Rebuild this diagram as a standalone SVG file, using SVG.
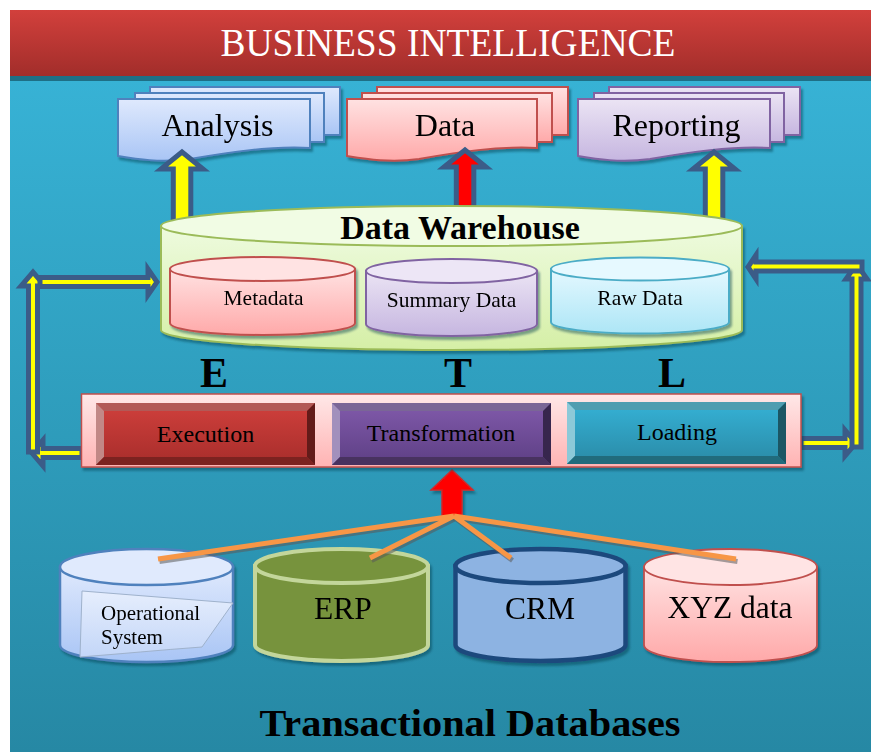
<svg xmlns="http://www.w3.org/2000/svg" width="871" height="752" viewBox="0 0 871 752">
  <defs>
    <linearGradient id="gBg" x1="0" y1="0" x2="0" y2="1">
      <stop offset="0" stop-color="#37b2d5"/>
      <stop offset="1" stop-color="#2688a4"/>
    </linearGradient>
    <linearGradient id="gHead" x1="0" y1="0" x2="0" y2="1">
      <stop offset="0" stop-color="#d2403c"/>
      <stop offset="1" stop-color="#a12d2a"/>
    </linearGradient>
    <linearGradient id="gBlue" x1="0" y1="0" x2="0" y2="1">
      <stop offset="0" stop-color="#dfe9fd"/>
      <stop offset="1" stop-color="#a9c5f5"/>
    </linearGradient>
    <linearGradient id="gPink" x1="0" y1="0" x2="0" y2="1">
      <stop offset="0" stop-color="#ffe2e2"/>
      <stop offset="1" stop-color="#ffa9a9"/>
    </linearGradient>
    <linearGradient id="gPurple" x1="0" y1="0" x2="0" y2="1">
      <stop offset="0" stop-color="#ebe4f4"/>
      <stop offset="1" stop-color="#c6b6e0"/>
    </linearGradient>
    <linearGradient id="gCyan" x1="0" y1="0" x2="0" y2="1">
      <stop offset="0" stop-color="#e4f8ff"/>
      <stop offset="1" stop-color="#ade6f6"/>
    </linearGradient>
    <linearGradient id="gGreen" x1="0" y1="0" x2="0" y2="1">
      <stop offset="0" stop-color="#eefbdf"/>
      <stop offset="1" stop-color="#d5efa6"/>
    </linearGradient>
    <linearGradient id="gFrame" x1="0" y1="0" x2="0" y2="1">
      <stop offset="0" stop-color="#ffe8e8"/>
      <stop offset="1" stop-color="#ffb3b3"/>
    </linearGradient>
    <linearGradient id="gExec" x1="0" y1="0" x2="0" y2="1">
      <stop offset="0" stop-color="#d0403c"/>
      <stop offset="1" stop-color="#a72d2b"/>
    </linearGradient>
    <linearGradient id="gTrans" x1="0" y1="0" x2="0" y2="1">
      <stop offset="0" stop-color="#815aab"/>
      <stop offset="1" stop-color="#5d3f84"/>
    </linearGradient>
    <linearGradient id="gLoad" x1="0" y1="0" x2="0" y2="1">
      <stop offset="0" stop-color="#35b2d6"/>
      <stop offset="1" stop-color="#2a8aa6"/>
    </linearGradient>
    <linearGradient id="gNote" x1="0" y1="0" x2="0" y2="1">
      <stop offset="0" stop-color="#e6eefd"/>
      <stop offset="1" stop-color="#c3d6f8"/>
    </linearGradient>
    <filter id="shadow" x="-10%" y="-10%" width="120%" height="130%">
      <feDropShadow dx="2" dy="3" stdDeviation="1" flood-color="#0b3a4a" flood-opacity="0.45"/>
    </filter>
  </defs>
  <style>
    .serif { font-family: "Liberation Serif", "Times New Roman", serif; fill: #000; text-anchor: middle; }
    .bold { font-weight: bold; }
    .loop { fill: #ffff00; stroke: #3b5c88; stroke-width: 5; stroke-linejoin: miter; stroke-miterlimit: 10; }
    .feed { fill: none; stroke: #f79646; stroke-width: 5; stroke-linecap: butt; }
    .feedShadow { fill: none; stroke: #5a5a5a; stroke-opacity: 0.55; stroke-width: 5; }
    .bevelTxt { font-size: 24px; }
    .dbTxt { font-size: 21.5px; }
    .docTxt { font-size: 32px; }
    .srcTxt { font-size: 31.5px; }
  </style>

  <!-- page background and title bar -->
  <rect x="10" y="80" width="861" height="672" fill="url(#gBg)"/>
  <g id="title">
    <rect x="10" y="10" width="861" height="67" fill="url(#gHead)"/>
    <rect x="10" y="76" width="861" height="5" fill="#1e6f86"/>
    <text x="448" y="56" font-family="Liberation Serif, Times New Roman, serif" font-size="39" fill="#ffffff" text-anchor="middle" textLength="455" lengthAdjust="spacingAndGlyphs">BUSINESS INTELLIGENCE</text>
  </g>

  <!-- output documents -->
  <g id="analysis" filter="url(#shadow)">
    <rect x="150" y="87" width="190" height="48" fill="url(#gBlue)" stroke="#4f81bd" stroke-width="2"/>
    <rect x="135" y="93" width="189" height="49" fill="url(#gBlue)" stroke="#4f81bd" stroke-width="2"/>
    <path d="M118,99 H310 V148 C270,146 230,152 190,159 C160,163 136,159 118,156 Z" fill="url(#gBlue)" stroke="#4f81bd" stroke-width="2"/>
    <text class="serif docTxt" x="217.5" y="136">Analysis</text>
  </g>
  <g id="data" filter="url(#shadow)">
    <rect x="377" y="87" width="191" height="48" fill="url(#gPink)" stroke="#c0504d" stroke-width="2"/>
    <rect x="362" y="93" width="190" height="49" fill="url(#gPink)" stroke="#c0504d" stroke-width="2"/>
    <path d="M347,99 H537 V148 C498,146 458,152 419,159 C390,163 366,159 347,156 Z" fill="url(#gPink)" stroke="#c0504d" stroke-width="2"/>
    <text class="serif docTxt" x="445" y="136">Data</text>
  </g>
  <g id="reporting" filter="url(#shadow)">
    <rect x="609" y="87" width="191" height="48" fill="url(#gPurple)" stroke="#8064a2" stroke-width="2"/>
    <rect x="594" y="93" width="190" height="49" fill="url(#gPurple)" stroke="#8064a2" stroke-width="2"/>
    <path d="M578,99 H770 V148 C730,146 690,152 650,159 C620,163 596,159 578,156 Z" fill="url(#gPurple)" stroke="#8064a2" stroke-width="2"/>
    <text class="serif docTxt" x="676.5" y="136">Reporting</text>
  </g>

  <!-- connectors -->
  <g id="connectors">
    <!-- warehouse to outputs -->
    <polygon class="loop" points="173.3,225 173.3,169 161,169 182,152 203,169 190.8,169 190.8,225"/>
    <polygon class="loop" style="fill:#ff0000" points="456.3,225 456.3,167 444,167 465,150 486,167 473.8,167 473.8,225"/>
    <polygon class="loop" points="705.3,225 705.3,169 693,169 714,152 735,169 722.8,169 722.8,225"/>

    <!-- left feedback loop: Execution to warehouse -->
    <polygon class="loop" points="82,448.5 43,448.5 43,440 32,453 43,466 43,457.5 82,457.5"/>
    <polygon class="loop" points="28.5,452 28.5,286 21,286 33,272 45,286 37.5,286 37.5,452"/>
    <polygon class="loop" points="40,277.5 148,277.5 148,269 157,282 148,295 148,286.5 40,286.5"/>

    <!-- right feedback loop: Loading to warehouse -->
    <polygon class="loop" points="801,438.5 845,438.5 845,430 856,443 845,456 845,447.5 801,447.5"/>
    <polygon class="loop" points="852,447 852,279 846,279 856.5,264 867,279 861,279 861,447"/>
    <polygon class="loop" points="862,262 756,262 756,255 748,267 756,279 756,271 862,271"/>

    <!-- sources to ETL -->
    <polygon points="442,516 442,490 431,490 452,470 473,490 462,490 462,516" fill="#ff0000" stroke="#d02a2a" stroke-width="1.5" filter="url(#shadow)"/>
  </g>

  <!-- data warehouse -->
  <g id="warehouse">
    <path d="M161,226 V330 A290.5,20 0 0 0 742,330 V226 Z" fill="url(#gGreen)" stroke="#9bbb59" stroke-width="2" filter="url(#shadow)"/>
    <ellipse cx="451.5" cy="226" rx="290.5" ry="20" fill="#f1fce4" stroke="#9bbb59" stroke-width="2"/>
    <text class="serif bold" x="460" y="239" font-size="34">Data Warehouse</text>
  </g>
  <g id="metadata" filter="url(#shadow)">
    <path d="M170,269 V323 A92.5,12 0 0 0 355,323 V269 Z" fill="url(#gPink)" stroke="#c0504d" stroke-width="2"/>
    <ellipse cx="262.5" cy="269" rx="92.5" ry="12" fill="#ffe3e3" stroke="#c0504d" stroke-width="2"/>
    <text class="serif dbTxt" x="263.5" y="305">Metadata</text>
  </g>
  <g id="summary" filter="url(#shadow)">
    <path d="M366,271 V324 A85.5,12 0 0 0 537,324 V271 Z" fill="url(#gPurple)" stroke="#8064a2" stroke-width="2"/>
    <ellipse cx="451.5" cy="271" rx="85.5" ry="12" fill="#ede6f6" stroke="#8064a2" stroke-width="2"/>
    <text class="serif dbTxt" x="451.5" y="307">Summary Data</text>
  </g>
  <g id="rawdata" filter="url(#shadow)">
    <path d="M551,269 V322 A89,11.5 0 0 0 729,322 V269 Z" fill="url(#gCyan)" stroke="#4bacc6" stroke-width="2"/>
    <ellipse cx="640" cy="269" rx="89" ry="11.5" fill="#e6f9ff" stroke="#4bacc6" stroke-width="2"/>
    <text class="serif dbTxt" x="640" y="305">Raw Data</text>
  </g>

  <!-- ETL stage letters -->
  <g id="etl-letters">
    <text class="serif bold" x="214" y="387" font-size="42">E</text>
    <text class="serif bold" x="458" y="387" font-size="42">T</text>
    <text class="serif bold" x="672" y="387" font-size="42">L</text>
  </g>

  <!-- ETL process bar -->
  <g id="etl">
    <rect x="81.5" y="394" width="719.5" height="73" fill="url(#gFrame)" stroke="#c0504d" stroke-width="1.5" filter="url(#shadow)"/>
  </g>
  <g id="execution">
    <rect x="96" y="403" width="219" height="62" fill="url(#gExec)"/>
    <polygon points="96,403 315,403 307,411 104,411" fill="#b25956"/>
    <polygon points="96,403 104,411 104,457 96,465" fill="#c28886"/>
    <polygon points="315,403 315,465 307,457 307,411" fill="#631b19"/>
    <polygon points="96,465 104,457 307,457 315,465" fill="#7c2220"/>
    <text class="serif bevelTxt" x="205.5" y="442">Execution</text>
  </g>
  <g id="transformation">
    <rect x="332" y="403" width="219" height="62" fill="url(#gTrans)"/>
    <polygon points="332,403 551,403 543,411 340,411" fill="#7a6696"/>
    <polygon points="332,403 340,411 340,457 332,465" fill="#a290bc"/>
    <polygon points="551,403 551,465 543,457 543,411" fill="#37264d"/>
    <polygon points="332,465 340,457 543,457 551,465" fill="#48325f"/>
    <text class="serif bevelTxt" x="441" y="441">Transformation</text>
  </g>
  <g id="loading">
    <rect x="567" y="402" width="219" height="62" fill="url(#gLoad)"/>
    <polygon points="567,402 786,402 778,410 575,410" fill="#4f9db0"/>
    <polygon points="567,402 575,410 575,456 567,464" fill="#8cc9d8"/>
    <polygon points="786,402 786,464 778,456 778,410" fill="#1b5664"/>
    <polygon points="567,464 575,456 778,456 786,464" fill="#216b7c"/>
    <text class="serif bevelTxt" x="677" y="440">Loading</text>
  </g>

  <!-- transactional sources -->
  <g id="operational" filter="url(#shadow)">
    <path d="M60,567 V645 A86.5,17 0 0 0 233,645 V567 Z" fill="url(#gBlue)" stroke="#4f81bd" stroke-width="2.5"/>
    <ellipse cx="146.5" cy="567" rx="86.5" ry="18" fill="#e0eafd" stroke="#4f81bd" stroke-width="2.5"/>
    <path d="M82,591 L233,603 L202,647 C160,650 120,654 80,657 Z" fill="url(#gNote)" stroke="#9fb2cc" stroke-width="1"/>
    <text class="serif" x="101" y="620" font-size="21" style="text-anchor:start">Operational</text>
    <text class="serif" x="101" y="644" font-size="21" style="text-anchor:start">System</text>
  </g>
  <g id="erp" filter="url(#shadow)">
    <path d="M255,566 V645 A86.5,16 0 0 0 428,645 V566 Z" fill="#77933c" stroke="#c3d69b" stroke-width="4"/>
    <ellipse cx="341.5" cy="566" rx="86.5" ry="17" fill="#77933c" stroke="#c3d69b" stroke-width="4"/>
    <text class="serif srcTxt" x="343" y="619">ERP</text>
  </g>
  <g id="crm" filter="url(#shadow)">
    <path d="M455.5,566 V645 A85,16 0 0 0 625.5,645 V566 Z" fill="#8db3e2" stroke="#1f497d" stroke-width="4.5"/>
    <ellipse cx="540.5" cy="566" rx="85" ry="17" fill="#8db3e2" stroke="#1f497d" stroke-width="4.5"/>
    <text class="serif srcTxt" x="540" y="619">CRM</text>
  </g>
  <g id="xyz" filter="url(#shadow)">
    <path d="M644,567 V645 A86.5,17 0 0 0 817,645 V567 Z" fill="url(#gPink)" stroke="#c0504d" stroke-width="1.8"/>
    <ellipse cx="730.5" cy="567" rx="86.5" ry="18" fill="#ffe4e4" stroke="#c0504d" stroke-width="1.8"/>
    <text class="serif srcTxt" x="730" y="618">XYZ data</text>
  </g>

  <!-- feed lines from each source into the ETL arrow -->
  <g id="feeds">
    <g transform="translate(1.5,2.5)">
      <path class="feedShadow" d="M454,516 L158,559 M454,516 L370,558 M454,516 L511,558 M454,516 L736,559"/>
    </g>
    <path class="feed" d="M454,516 L158,559 M454,516 L370,558 M454,516 L511,558 M454,516 L736,559"/>
  </g>

  <g id="footer">
    <text class="serif bold" x="470" y="736" font-size="38" textLength="421" lengthAdjust="spacingAndGlyphs">Transactional Databases</text>
  </g>
</svg>
